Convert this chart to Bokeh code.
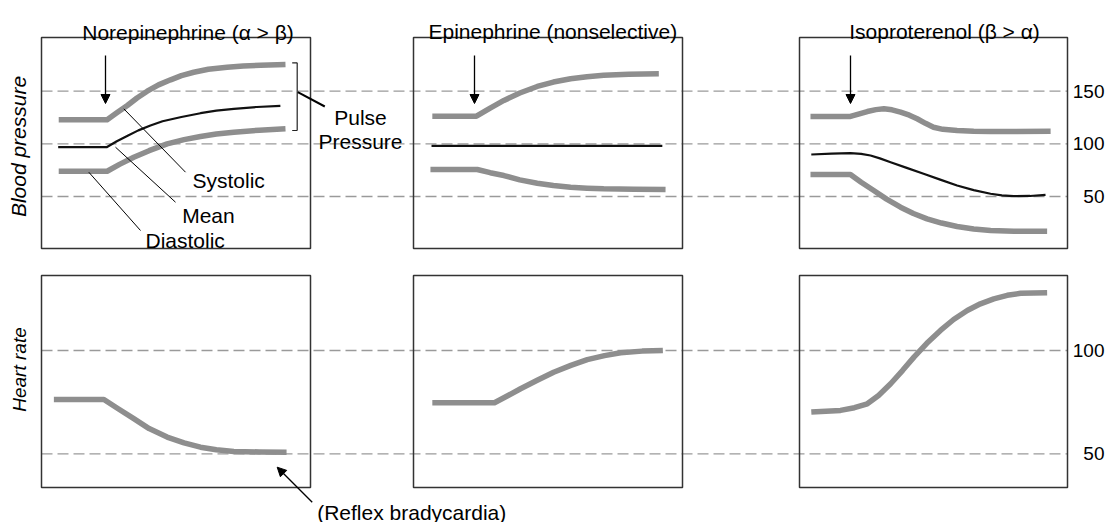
from bokeh.plotting import figure
from bokeh.models import Range1d, Arrow, NormalHead
from bokeh.core.properties import value
from bokeh.embed import file_html
from bokeh.resources import INLINE

# ---------------- data (time in arbitrary units 0..10 across each panel) ----------------
drugs = ["Norepinephrine (\u03b1 > \u03b2)", "Epinephrine (nonselective)", "Isoproterenol (\u03b2 > \u03b1)"]
bp_ticks = [50, 100, 150]
hr_ticks = [50, 100]
row_labels = ["Blood pressure", "Heart rate"]

# Norepinephrine
ne_sys_t = [0.64, 2.44, 2.80, 3.19, 3.55, 3.93, 4.35, 4.80, 5.20, 5.66, 6.20, 6.90, 7.50, 8.14, 9.07]
ne_sys_v = [123, 123, 129.5, 136.4, 143.5, 150, 156.0, 160.8, 164.8, 168.0, 170.8, 172.8, 174.0, 174.7, 175.3]
ne_mean_t = [0.62, 2.42, 2.80, 3.22, 3.60, 4.05, 4.50, 5.20, 5.91, 6.50, 7.15, 8.00, 8.88]
ne_mean_v = [96.8, 96.8, 102.5, 107.9, 112.8, 117.4, 121.5, 125.5, 129.1, 131.5, 133.3, 135.0, 136.1]
ne_dia_t = [0.64, 2.44, 2.90, 3.43, 4.00, 4.67, 5.30, 5.91, 6.50, 7.15, 8.10, 9.07]
ne_dia_v = [74.0, 74.0, 80.5, 87.3, 93.5, 100.0, 104.0, 107.0, 109.3, 111.1, 113.0, 114.3]
ne_hr_t = [0.46, 2.32, 2.85, 3.43, 4.00, 4.67, 5.30, 5.91, 6.50, 7.15, 8.10, 9.11]
ne_hr_v = [76.3, 76.3, 71.8, 67.0, 62.2, 58.1, 55.3, 53.2, 52.0, 51.1, 50.9, 50.8]

# Epinephrine
epi_sys_t = [0.70, 2.34, 2.85, 3.36, 3.95, 4.60, 5.20, 5.84, 6.45, 7.07, 8.00, 9.12]
epi_sys_v = [126.3, 126.3, 134.0, 141.2, 148.3, 154.5, 158.7, 161.8, 163.8, 165.2, 166.2, 166.5]
epi_mean_t = [0.67, 9.25]
epi_mean_v = [98.0, 98.0]
epi_dia_t = [0.63, 2.37, 2.85, 3.36, 3.95, 4.60, 5.20, 5.84, 6.45, 7.07, 8.20, 9.37]
epi_dia_v = [75.6, 75.6, 72.6, 69.9, 65.8, 62.6, 60.4, 58.8, 57.9, 57.3, 56.9, 56.6]
epi_hr_t = [0.70, 3.01, 3.50, 3.98, 4.60, 5.21, 5.85, 6.46, 7.10, 7.70, 8.50, 9.27]
epi_hr_v = [74.7, 74.7, 78.1, 81.5, 85.6, 89.5, 92.8, 95.6, 97.5, 98.9, 99.7, 100.0]

# Isoproterenol
iso_sys_t = [0.41, 1.90, 2.20, 2.53, 2.85, 3.15, 3.45, 3.77, 4.10, 4.39, 4.70, 5.00, 5.35, 5.88, 6.50, 7.13, 9.37]
iso_sys_v = [126.0, 126.0, 128.3, 130.7, 132.5, 133.3, 132.3, 130.1, 127.2, 123.8, 119.5, 115.8, 113.8, 112.7, 112.0, 111.7, 112.0]
iso_mean_t = [0.44, 1.20, 1.90, 2.30, 2.65, 3.00, 3.40, 4.00, 4.63, 5.25, 5.88, 6.50, 7.13, 7.55, 7.99, 8.60, 9.18]
iso_mean_v = [89.9, 90.7, 91.1, 90.4, 88.9, 86.2, 82.6, 77.2, 71.6, 66.0, 60.4, 56.0, 52.6, 51.0, 50.3, 50.5, 51.6]
iso_dia_t = [0.41, 1.90, 2.30, 2.77, 3.25, 3.77, 4.25, 4.76, 5.30, 5.88, 6.50, 7.13, 8.00, 9.24]
iso_dia_v = [70.9, 70.9, 63.5, 55.7, 47.5, 39.8, 33.8, 28.8, 24.8, 21.5, 19.2, 17.7, 17.1, 17.0]
iso_hr_t = [0.44, 1.53, 2.05, 2.53, 2.95, 3.40, 3.85, 4.27, 4.75, 5.26, 5.75, 6.26, 6.75, 7.25, 7.75, 8.25, 9.24]
iso_hr_v = [70.2, 71.0, 72.3, 74.2, 78.2, 83.9, 90.4, 96.8, 103.5, 109.7, 115.0, 119.4, 122.6, 125.0, 126.7, 127.7, 127.9]

# ---------------- layout (page pixel positions) ----------------
X0, W, H = 0, 1107, 522
Y0 = 0
PANEL_L = [41, 413, 799]
PANEL_R = [310, 682, 1067]
TOP_ROW = (37, 248)
BOT_ROW = (275, 487)
BP_REF = ((150, 90.7), (50, 196.0))
HR_REF = ((100, 350.0), (50, 453.3))
T_MAX = 10.0
FONT = value("Liberation Sans")
GRAY = "#8e8e8e"


def value_range(ref):
    (v1, y1), (v2, y2) = ref
    k = (v1 - v2) / (y2 - y1)
    return Range1d(v1 - (Y0 + H - y1) * k, v1 + (y1 - Y0) * k)


def time_range(L, R):
    k = T_MAX / (R - L)
    return Range1d(-(L - X0) * k, T_MAX + (X0 + W - R) * k)


p = figure(width=W, height=H, x_range=Range1d(X0, X0 + W), y_range=Range1d(Y0 + H, Y0),
           output_backend="svg", toolbar_location=None, min_border=0,
           x_axis_location=None, y_axis_location=None)
p.outline_line_color = None
p.xgrid.visible = False
p.ygrid.visible = False
p.background_fill_color = "white"
p.border_fill_color = "white"

p.extra_y_ranges = {"bp": value_range(BP_REF), "hr": value_range(HR_REF)}
p.extra_x_ranges = {f"p{i}": time_range(PANEL_L[i], PANEL_R[i]) for i in range(3)}

# dashed reference lines
p.segment(x0=[PANEL_L[0]] * 3, x1=[PANEL_R[2]] * 3, y0=bp_ticks, y1=bp_ticks,
          y_range_name="bp", line_color="#9a9a9a", line_width=1.3, line_dash="11 5")
p.segment(x0=[PANEL_L[0]] * 2, x1=[PANEL_R[2]] * 2, y0=hr_ticks, y1=hr_ticks,
          y_range_name="hr", line_color="#9a9a9a", line_width=1.3, line_dash="11 5")

# panel boxes
for (top, bot) in (TOP_ROW, BOT_ROW):
    p.quad(left=PANEL_L, right=PANEL_R, top=[top] * 3, bottom=[bot] * 3,
           fill_color=None, line_color="#333333", line_width=1.5)

# curves
series = [
    (ne_sys_t, ne_sys_v, ne_mean_t, ne_mean_v, ne_dia_t, ne_dia_v, ne_hr_t, ne_hr_v),
    (epi_sys_t, epi_sys_v, epi_mean_t, epi_mean_v, epi_dia_t, epi_dia_v, epi_hr_t, epi_hr_v),
    (iso_sys_t, iso_sys_v, iso_mean_t, iso_mean_v, iso_dia_t, iso_dia_v, iso_hr_t, iso_hr_v),
]
for i, (st, sv, mt, mv, dt, dv, ht, hv) in enumerate(series):
    xr = f"p{i}"
    p.line(st, sv, x_range_name=xr, y_range_name="bp", line_color=GRAY, line_width=5.5,
           line_join="round")
    p.line(dt, dv, x_range_name=xr, y_range_name="bp", line_color=GRAY, line_width=5.5,
           line_join="round")
    p.line(mt, mv, x_range_name=xr, y_range_name="bp", line_color="#111111", line_width=2.2,
           line_join="round")
    p.line(ht, hv, x_range_name=xr, y_range_name="hr", line_color=GRAY, line_width=5.5,
           line_join="round")

# leader lines for curve labels
p.segment(x0=[123.3, 115, 88.3], y0=[108.3, 146.7, 171.7],
          x1=[185, 175, 140], y1=[171.7, 201.7, 230], line_color="black", line_width=1)
# pulse pressure bracket
p.segment(x0=[296.7, 291.7, 291.7], y0=[62.3, 62.3, 130],
          x1=[296.7, 296.7, 296.7], y1=[130, 62.3, 130], line_color="#222222", line_width=1.2)
p.segment(x0=[297.3], y0=[91.7], x1=[324.3], y1=[106], line_color="black", line_width=2)

# titles
p.text(x=[187.5, 552.3, 944], y=[31.7, 31, 30.7], text=drugs, text_font=FONT,
       text_font_size=value("21px"), text_align="center", text_baseline="alphabetic",
       text_color="black")
# curve labels
p.text(x=[192, 181.7, 145], y=[180, 215, 240], text=["Systolic", "Mean", "Diastolic"],
       text_font=FONT, text_font_size=value("21px"), text_align="left",
       text_baseline="alphabetic", text_color="black")
p.text(x=[360, 360], y=[116.7, 140.7], text=["Pulse", "Pressure"], text_font=FONT,
       text_font_size=value("21px"), text_align="center", text_baseline="alphabetic",
       text_color="black")
p.text(x=[316.7], y=[511.5], text=["(Reflex bradycardia)"], text_font=FONT,
       text_font_size=value("21px"), text_align="left", text_baseline="alphabetic",
       text_color="black")

# row labels
p.text(x=[18], y=[146], text=[row_labels[0]], angle=1.5707963, text_font=FONT,
       text_font_size=value("21px"), text_font_style="italic", text_align="center",
       text_baseline="middle", text_color="black")
p.text(x=[19], y=[369], text=[row_labels[1]], angle=1.5707963, text_font=FONT,
       text_font_size=value("19px"), text_font_style="italic", text_align="center",
       text_baseline="middle", text_color="black")

# tick labels at right
p.text(x=[1104] * 3, y=bp_ticks, text=[str(v) for v in bp_ticks], y_range_name="bp",
       text_font=FONT, text_font_size=value("19px"), text_align="right",
       text_baseline="middle", text_color="black")
p.text(x=[1104] * 2, y=hr_ticks, text=[str(v) for v in hr_ticks], y_range_name="hr",
       text_font=FONT, text_font_size=value("19px"), text_align="right",
       text_baseline="middle", text_color="black")

# injection arrows
for ax in (105, 474, 850):
    p.add_layout(Arrow(end=NormalHead(size=9, fill_color="black", line_color="black"),
                       x_start=ax, y_start=55, x_end=ax, y_end=103,
                       line_color="black", line_width=1.3))
# reflex bradycardia arrow
p.add_layout(Arrow(end=NormalHead(size=9, fill_color="black", line_color="black"),
                   x_start=311.7, y_start=501.7, x_end=276.7, y_end=466.7,
                   line_color="black", line_width=1.3))

open("out.html", "w").write(file_html(p, INLINE))
